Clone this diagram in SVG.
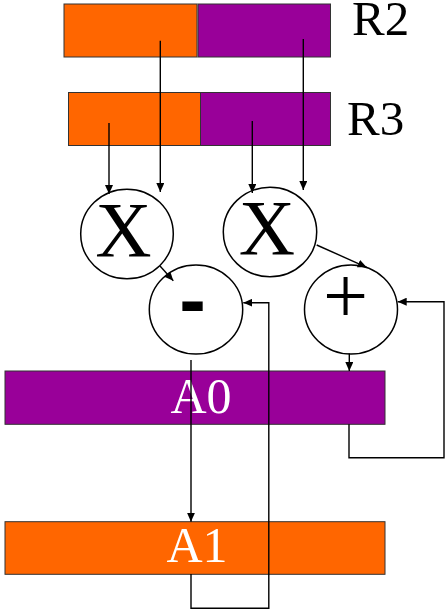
<svg xmlns="http://www.w3.org/2000/svg" width="445" height="612" viewBox="0 0 445 612">
<defs>
<marker id="ah" markerUnits="userSpaceOnUse" markerWidth="10" markerHeight="8" refX="9" refY="4" orient="auto">
<path d="M0,0 L9,4 L0,8 z" fill="#000"/>
</marker>
<style>
.o{fill:#FF6600;stroke:#333;stroke-width:1}
.p{fill:#990099;stroke:#333;stroke-width:1}
.c{fill:#fff;stroke:#000;stroke-width:1.5}
.w{stroke:#000;stroke-width:1.4;fill:none}
.a{marker-end:url(#ah)}
.t{font-family:"Liberation Serif","Times New Roman",serif;fill:#000}
.tw{font-family:"Liberation Serif","Times New Roman",serif;fill:#fff}
</style>
</defs>
<rect width="445" height="612" fill="#fff"/>
<g id="R2">
<rect class="o" x="64" y="4" width="133" height="53"/>
<rect class="p" x="198" y="4" width="132.5" height="53"/>
<text class="t" x="352" y="35" font-size="49">R2</text>
</g>
<g id="R3">
<rect class="o" x="68.5" y="92.5" width="132" height="53"/>
<rect class="p" x="200.5" y="92.5" width="130" height="53"/>
<text class="t" x="347" y="135" font-size="49">R3</text>
</g>
<g id="mulL">
<ellipse class="c" cx="127" cy="234" rx="46.3" ry="44.8"/>
<text class="t" x="123.5" y="255.5" font-size="78" text-anchor="middle">X</text>
</g>
<g id="mulR">
<ellipse class="c" cx="270" cy="232" rx="46.7" ry="44.7"/>
<text class="t" x="267" y="254" font-size="78" text-anchor="middle">X</text>
</g>
<g id="sub">
<ellipse class="c" cx="196" cy="309.5" rx="46.7" ry="44.5"/>
<text x="192.5" y="327" font-size="80" font-weight="bold" font-family="'Liberation Sans', Arial, sans-serif" text-anchor="middle">-</text>
</g>
<g id="add">
<ellipse class="c" cx="351" cy="309.5" rx="46.5" ry="44.5"/>
<text class="t" x="345.5" y="323" font-size="80" text-anchor="middle">+</text>
</g>
<g id="A0">
<rect class="p" x="5" y="371" width="380" height="53.3"/>
<text class="tw" x="201" y="413.3" font-size="50" text-anchor="middle">A0</text>
</g>
<g id="A1">
<rect class="o" x="5" y="521.7" width="380" height="52.6"/>
<text class="tw" x="197" y="562.3" font-size="50" text-anchor="middle">A1</text>
</g>
<g id="connectors">
<line class="w a" x1="160.3" y1="40.7" x2="160.3" y2="192"/>
<line class="w a" x1="303.3" y1="39" x2="303.3" y2="190"/>
<line class="w a" x1="109" y1="123" x2="109" y2="194"/>
<line class="w a" x1="252.3" y1="121" x2="252.3" y2="193"/>
<line class="w a" x1="160" y1="266" x2="173.3" y2="280.7"/>
<line class="w a" x1="316.7" y1="245" x2="366.7" y2="267.3"/>
<polyline class="w a" points="191,574 191,608.3 268.8,608.3 268.8,302.7 243.3,302.7"/>
<line class="w a" x1="191" y1="360" x2="191" y2="521.7"/>
<line class="w a" x1="349.3" y1="353.5" x2="349.3" y2="371"/>
<polyline class="w a" points="349,424.3 349,457.7 444,457.7 444,301.7 397.7,301.7"/>
</g>
</svg>
